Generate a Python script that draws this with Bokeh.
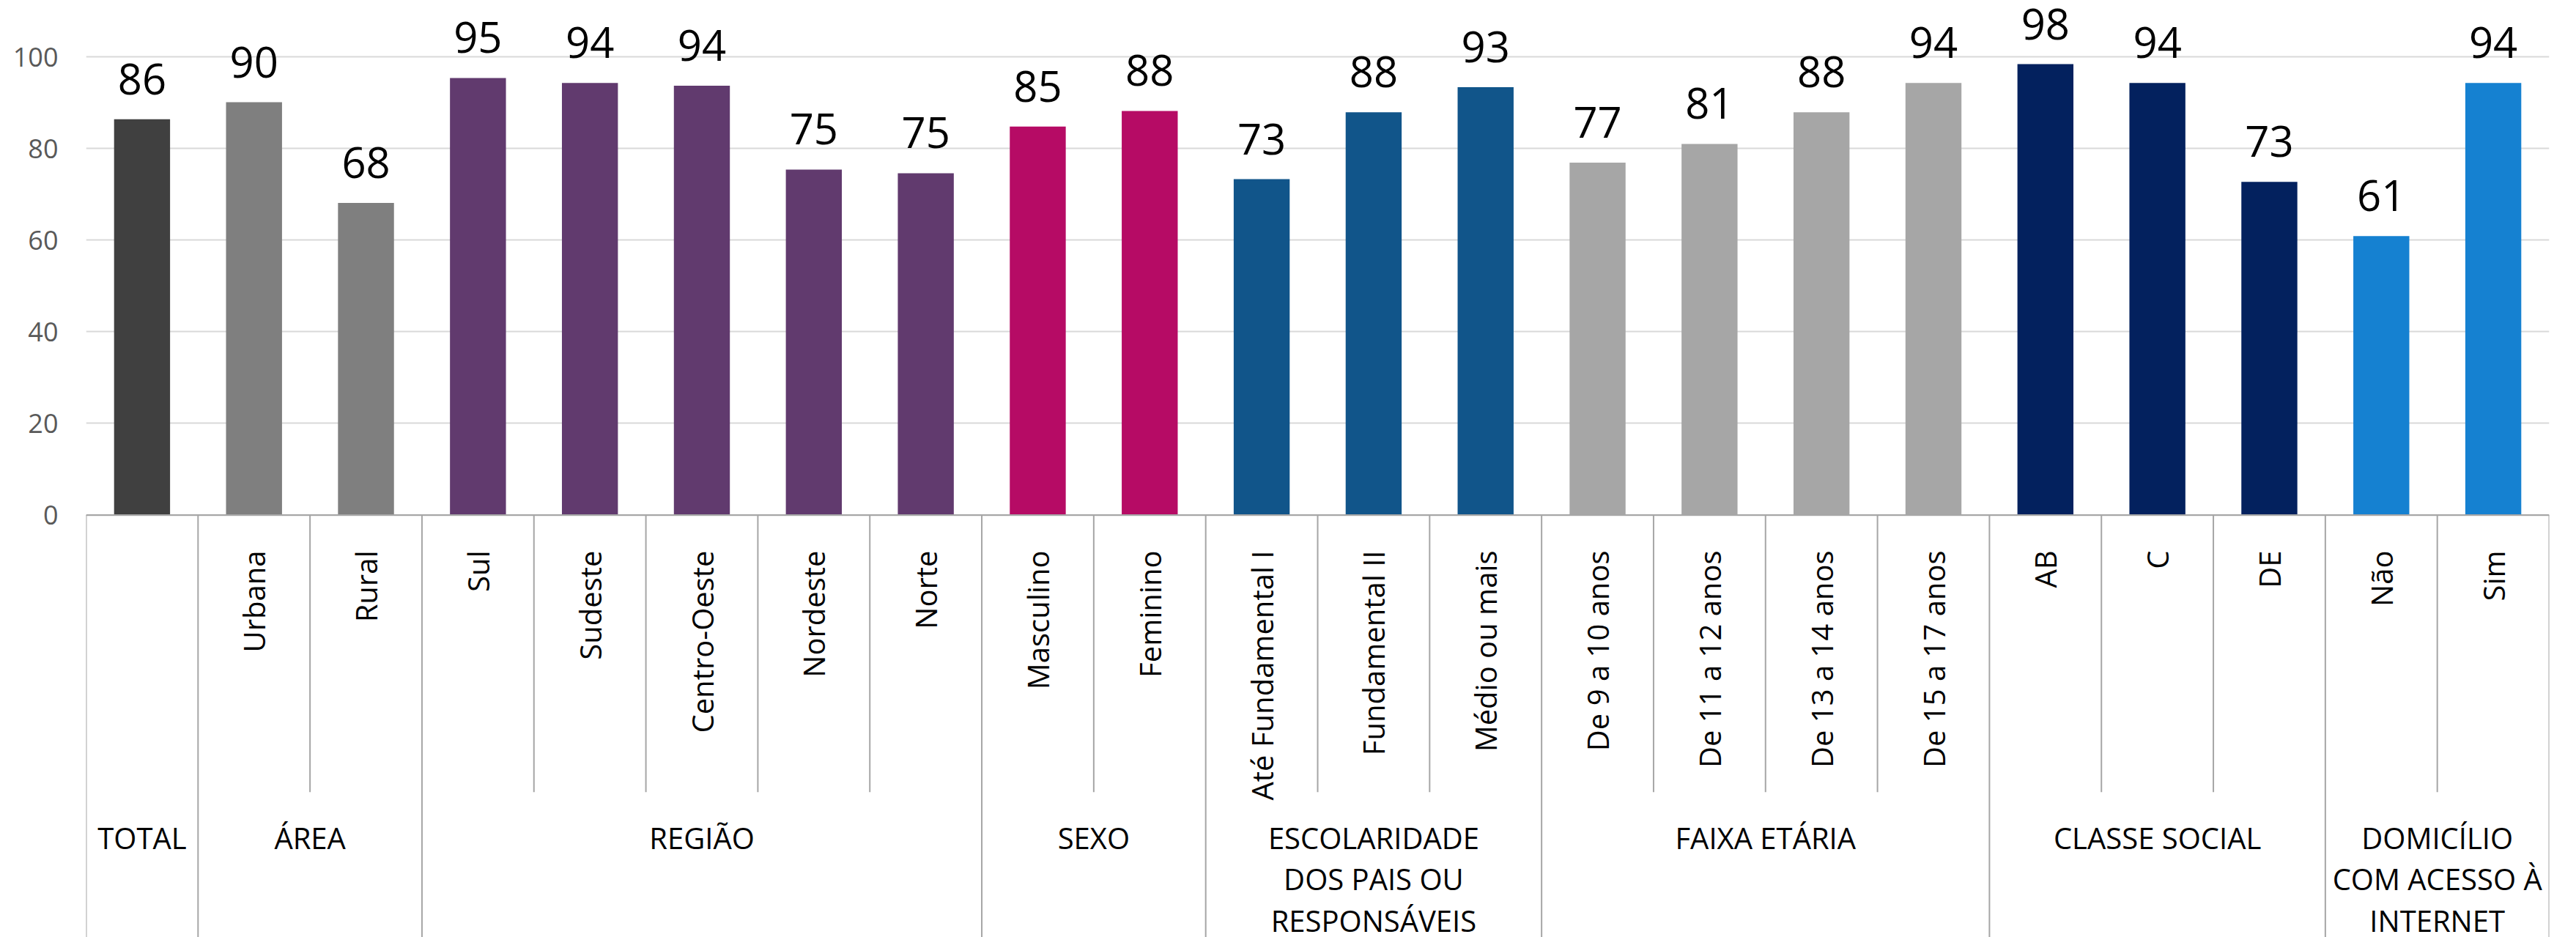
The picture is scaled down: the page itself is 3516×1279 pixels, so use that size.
import numpy as np
from bokeh.plotting import figure
from bokeh.models import Range1d, FixedTicker, ColumnDataSource, Span
from bokeh.embed import file_html
from bokeh.resources import INLINE
from bokeh.core.properties import value as pv

# ---------------- data ----------------
sub_labels = ["", "Urbana", "Rural", "Sul", "Sudeste", "Centro-Oeste", "Nordeste", "Norte",
              "Masculino", "Feminino", "Até Fundamental I", "Fundamental II", "Médio ou mais",
              "De 9 a 10 anos", "De 11 a 12 anos", "De 13 a 14 anos", "De 15 a 17 anos",
              "AB", "C", "DE", "Não", "Sim"]
values = [86.4, 90.1, 68.1, 95.4, 94.3, 93.7, 75.4, 74.6, 84.8, 88.2, 73.3, 87.9, 93.4,
          76.9, 81.0, 87.9, 94.3, 98.4, 94.3, 72.7, 60.9, 94.3]
value_labels = ["86", "90", "68", "95", "94", "94", "75", "75", "85", "88", "73", "88", "93",
                "77", "81", "88", "94", "98", "94", "73", "61", "94"]
groups = ["TOTAL", "ÁREA", "REGIÃO", "SEXO", "ESCOLARIDADE\nDOS PAIS OU\nRESPONSÁVEIS",
          "FAIXA ETÁRIA", "CLASSE SOCIAL", "DOMICÍLIO\nCOM ACESSO À\nINTERNET"]
group_sizes = [1, 2, 5, 2, 3, 4, 3, 2]
group_colors = ["#404040", "#7F7F7F", "#613A6E", "#B60B65", "#11558A", "#A6A6A6", "#03215E", "#1581D1"]
y_ticks = [0, 20, 40, 60, 80, 100]

# ---------------- derived ----------------
n = len(values)
xs = list(np.arange(n) + 0.5)
colors = sum([[c] * s for c, s in zip(group_colors, group_sizes)], [])
bounds = [0] + list(np.cumsum(group_sizes))
group_centers = [(a + b) / 2 for a, b in zip(bounds[:-1], bounds[1:])]
inner = [i for i in range(1, n) if i not in bounds]

W, H = 3516, 1279
Y_TOP, Y_BOT = 112.33, -92.18
PX = (H) / (Y_TOP - Y_BOT)          # pixels per data unit
LABEL_GAP = 55 / PX                 # gap between bar top and its label anchor
FONT = "Open Sans"

p = figure(width=W, height=H, output_backend="svg", toolbar_location=None,
           x_range=Range1d(0, n), y_range=Range1d(Y_BOT, Y_TOP),
           x_axis_location=None,
           min_border_left=117, min_border_right=37, min_border_top=0, min_border_bottom=0)
p.outline_line_color = None
p.background_fill_color = "white"
p.border_fill_color = "white"
p.xgrid.visible = False
p.ygrid.ticker = FixedTicker(ticks=y_ticks)
p.ygrid.grid_line_color = "#D9D9D9"
p.ygrid.grid_line_width = 2

ax = p.yaxis[0]
ax.ticker = FixedTicker(ticks=y_ticks)
ax.axis_line_color = None
ax.major_tick_line_color = None
ax.minor_tick_line_color = None
ax.major_tick_out = 0
ax.major_tick_in = 0
ax.major_label_text_font = FONT
ax.major_label_text_font_size = "36px"
ax.major_label_text_color = "#595959"
ax.major_label_standoff = 38

src = ColumnDataSource(dict(x=xs, top=values, color=colors, lab=value_labels, sub=sub_labels,
                            lab_y=[v + LABEL_GAP for v in values]))

p.vbar(x="x", top="top", width=0.5, fill_color="color", line_color=None, source=src)

# baseline axis line
p.add_layout(Span(location=0, dimension="width", line_color="#A6A6A6", line_width=2))

# separators below the axis
p.segment(x0=bounds, y0=[0] * len(bounds), x1=bounds, y1=[Y_BOT] * len(bounds),
          line_color="#A6A6A6", line_width=2)
p.segment(x0=inner, y0=[0] * len(inner), x1=inner, y1=[-60.5] * len(inner),
          line_color="#A6A6A6", line_width=2)

# value labels
p.text(x="x", y="lab_y", text="lab", source=src,
       text_align="center", text_baseline="alphabetic",
       text_font=pv(FONT), text_font_size="58px", text_color="#000000")

# rotated sub-category labels
p.text(x="x", y=-7.75, text="sub", source=src, angle=np.pi / 2,
       text_align="right", text_baseline="middle",
       text_font=pv(FONT), text_font_size="40px", text_color="#000000")

# group labels
p.text(x=group_centers, y=[-66.0] * len(groups), text=groups,
       text_align="center", text_baseline="top", text_line_height=1.03,
       text_font=pv(FONT), text_font_size="40px", text_color="#000000")

open("out.html", "w").write(file_html(p, INLINE, title="Gráfico"))
